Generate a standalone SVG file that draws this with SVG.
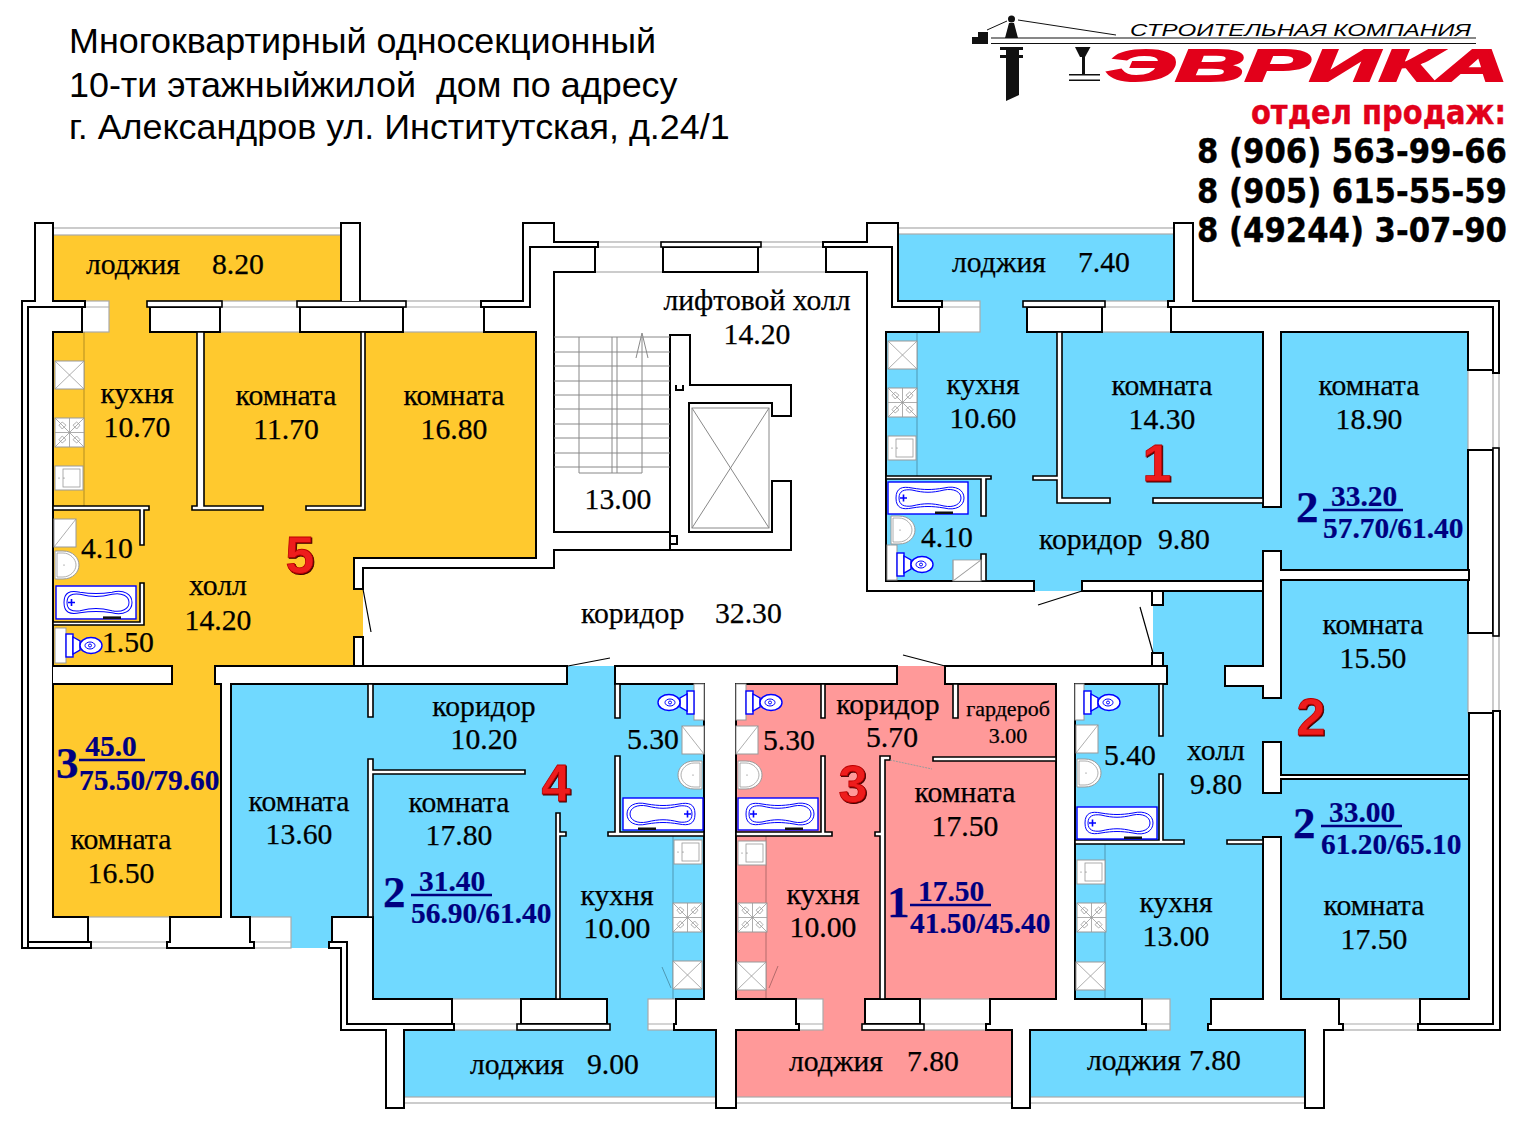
<svg xmlns="http://www.w3.org/2000/svg" xmlns:xlink="http://www.w3.org/1999/xlink" width="1528" height="1125" viewBox="0 0 1528 1125">
<style>
.o{fill:#ffc92e}.b{fill:#70d9ff}.p{fill:#ff9999}
.w{fill:#fff;stroke:#000;stroke-width:2;stroke-linejoin:miter}
.l{fill:none;stroke:#000;stroke-width:2}
.t{fill:#fff;stroke:#000;stroke-width:1.6}
.g{fill:#fff;stroke:#aaa;stroke-width:1.2}
.gl{fill:none;stroke:#aaa;stroke-width:1.2}
.s{fill:none;stroke:#888;stroke-width:1}
.c{fill:none;stroke:#000;stroke-opacity:.3;stroke-width:1}
.f{fill:#fff;stroke:#999;stroke-width:1}
.fl{fill:none;stroke:#999;stroke-width:.8}
.bl{fill:#fff;stroke:#00f;stroke-width:1.4}
.bn{fill:none;stroke:#00f;stroke-width:1}
text{font-family:"Liberation Serif","Times New Roman",serif;font-size:29.7px;fill:#000;stroke:#000;stroke-width:.25}
.m{text-anchor:middle}
.n{font-weight:bold;font-size:29.4px;fill:#000080;stroke:#000080;stroke-width:.2}
.nb{font-weight:bold;font-size:45px;fill:#000080;stroke:#000080}
.r{font-family:"Liberation Sans",Arial,sans-serif;font-weight:bold;font-size:52px;fill:#ee1c1c;stroke:#b00;stroke-width:.8;text-anchor:middle;filter:drop-shadow(1px 1px 0.5px #400)}
.h{font-family:"Liberation Sans",Arial,sans-serif;font-size:35.9px;stroke:none;white-space:pre}
.ph{font-family:"DejaVu Sans",Verdana,sans-serif;font-weight:bold;font-size:34px;stroke:#000;stroke-width:.4;text-anchor:end}
.u{stroke:#000080;stroke-width:2.4}
</style>
<defs>
<g id="bath"><rect class="bl" width="80" height="32"/><path class="bn" d="M8,16C8,6 14,4 24,6C36,8 44,8 56,6C68,3 76,8 76,16C76,24 68,29 56,26C44,24 36,24 24,26C14,28 8,26 8,16z"/><path class="bn" d="M11,16C11,9 16,7 24,8C36,11 44,11 56,8C66,6 73,10 73,16C73,22 66,26 56,24C44,21 36,21 24,24C16,25 11,23 11,16z"/><path d="M12,16H19M15.5,12.5V19.5" stroke="#00f" stroke-width="1.6"/><rect x="47" y="29.5" width="18" height="2.5" fill="#111"/></g>
<g id="toilet"><rect class="bl" x="0" y="1" width="7" height="23"/><path class="bl" d="M7,4L14,8V17L7,21z"/><ellipse class="bl" cx="25" cy="12.5" rx="11" ry="8"/><ellipse class="bn" cx="24" cy="12.5" rx="5" ry="3.5"/><circle class="bn" cx="24" cy="12.5" r="1.5"/></g>
<g id="basin"><path class="f" d="M0,0H8C18,0 24,7 24,14C24,21 18,28 8,28H0z"/><path class="fl" d="M2,2H8C15,2 21,8 21,14C21,20 15,26 8,26H2z"/><circle cx="9" cy="14" r=".6" fill="#666"/></g>
<g id="shower"><rect class="f" width="22" height="28"/><path class="fl" d="M0,28L22,0"/></g>
<g id="xbox"><rect class="f" width="29" height="28"/><path class="fl" d="M0,0L29,28M29,0L0,28"/></g>
<g id="stove"><rect class="f" width="29" height="29"/><path class="fl" d="M14.5,0V29M0,14.5H29M0,0L29,29M29,0L0,29M4,7.2L7.2,4L11,7.2L7.2,11zM18,7.2L21.7,4L25,7.2L21.7,11zM4,21.7L7.2,18L11,21.7L7.2,25zM18,21.7L21.7,18L25,21.7L21.7,25z"/></g>
<g id="sink"><rect class="f" width="28" height="24"/><rect class="fl" x="8" y="3" width="17" height="18"/><circle cx="4" cy="12" r=".6" fill="#666"/><circle cx="9" cy="12" r=".6" fill="#666"/></g>
</defs>
<rect width="1528" height="1125" fill="#fff"/>

<g id="floors">
<path class="o" d="M53,235H341V302H53zM109,302H150V334H109zM53,332H536V560H363V666H53zM172,660H215V690H172zM53,684H222V917H53z"/>
<path class="b" d="M898,234H1174V302H898zM980,301H1027V334H980zM886,332H1263V581H886zM1034,580H1082V591H1034zM1262,507H1282V551H1262zM1281,332H1468V571H1281zM1153,591H1263V684H1153zM1075,684H1263V999H1075zM1262,698H1282V742H1262zM1262,793H1282V837H1262zM1281,580H1469V776H1281zM1281,778H1469V999H1281zM1170,999H1211V1031H1170zM1030,1030H1305V1097H1030z"/>
<path class="b" d="M231,684H704V999H373V917H231zM567,666H615V685H567zM291,916H332V948H291zM607,999H648V1031H607zM404,1030H716V1097H404z"/>
<path class="p" d="M736,684H1056V999H736zM897,666H945V685H897zM823,999H865V1031H823zM736,1030H1012V1097H736z"/>
</g>

<g id="windows">
<rect class="g" x="53" y="228" width="288" height="7"/><rect class="g" x="898" y="228" width="276" height="6"/>
<rect class="g" x="404" y="1097" width="312" height="6"/><rect class="g" x="736" y="1097" width="276" height="6"/><rect class="g" x="1030" y="1097" width="275" height="6"/>
<rect class="g" x="82" y="301" width="27" height="31"/><rect class="g" x="220" y="301" width="80" height="31"/><rect class="g" x="403" y="301" width="81" height="31"/>
<rect class="g" x="595" y="242" width="68" height="30"/><rect class="g" x="758" y="242" width="68" height="30"/>
<rect class="g" x="939" y="301" width="41" height="31"/><rect class="g" x="1102" y="301" width="69" height="31"/>
<rect class="g" x="1468" y="370" width="31" height="80"/><rect class="g" x="1468" y="633" width="31" height="80"/>
<rect class="g" x="88" y="917" width="82" height="31"/><rect class="g" x="250" y="917" width="41" height="31"/>
<rect class="g" x="452" y="999" width="69" height="31"/><rect class="g" x="648" y="999" width="28" height="31"/><rect class="g" x="796" y="999" width="27" height="31"/>
<rect class="g" x="920" y="999" width="70" height="31"/><rect class="g" x="1142" y="999" width="28" height="31"/><rect class="g" x="1339" y="999" width="81" height="31"/>
<path class="gl" d="M82,307H109M220,307H300M403,307H484M595,247H663M758,247H826M939,307H980M1102,307H1171M1493,370V450M1493,633V713M88,942H170M250,942H291M452,1024H521M648,1024H676M796,1024H823M920,1024H990M1142,1024H1170M1339,1024H1420"/>
</g>

<g id="walls">
<path class="w" d="M35,223H53V301H85V307H82V332H53V917H88V942H91V948H22V301H35z"/>
<path class="l" d="M28,948V307H82M28,942H88"/>
<path class="w" d="M53,666H172V684H53"/>
<rect class="w" x="150" y="307" width="70" height="25"/><rect class="t" x="147" y="301" width="75" height="6"/>
<rect class="w" x="300" y="307" width="103" height="25"/><rect class="t" x="297" y="301" width="109" height="6"/>
<path class="w" d="M341,301V223H360V301"/>
<path class="w" d="M481,301H523V223H554V242H598V247H595V272H554V532H670V550H554V568H363V589H354V558H536V332H484V307H481z"/>
<path class="l" d="M481,307H530V247H595"/>
<rect class="w" x="354" y="637" width="9" height="29"/>
<path class="w" d="M670,335H690V385H791V416H772V403H689V532H772V481H791V550H670V544H677V536H670z"/>
<path class="l" d="M676,385V390H683V385"/>
<rect class="w" x="663" y="247" width="95" height="25"/><rect class="t" x="661" y="242" width="100" height="5"/>
<path class="w" d="M823,242H867V223H898V301H942V307H939V332H886V581H1034V591H867V272H826V247H823z"/>
<path class="l" d="M826,247H892V307H939"/>
<rect class="w" x="1027" y="307" width="75" height="25"/><rect class="t" x="1023" y="301" width="82" height="6"/>
<path class="w" d="M1168,301H1174V223H1193V301H1499V373H1493V370H1468V332H1281V507H1263V332H1171V307H1168z"/>
<path class="l" d="M1171,307H1493V373"/>
<rect class="w" x="1082" y="581" width="181" height="10"/>
<rect class="w" x="1468" y="450" width="25" height="183"/><rect class="t" x="1493" y="448" width="6" height="188"/>
<path class="w" d="M1263,551H1281V570H1469V580H1281V698H1263V686H1225V666H1263z"/>
<path class="w" d="M1263,742H1281V775H1469V779H1281V793H1263z"/>
<path class="w" d="M1263,837H1281V999H1339V1024H1343V1030H1324V1108H1305V1030H1208V1024H1211V999H1263z"/>
<path class="w" d="M1469,713H1493V711H1500V1030H1418V1024H1420V999H1469z"/>
<path class="l" d="M1493,711V1024H1420"/>
<rect class="w" x="1152" y="591" width="11" height="14"/><rect class="w" x="1152" y="653" width="11" height="15"/>
<path class="w" d="M945,666H1167V684H1075V999H1142V1024H1146V1030H1030V1108H1012V1030H986V1024H990V999H1056V684H945z"/>
<path class="w" d="M615,666H897V684H736V999H796V1024H799V1030H736V1108H716V1030H674V1024H676V999H704V684H615z"/>
<path class="w" d="M215,666H567V684H231V917H250V942H254V948H167V942H170V917H221V684H215z"/>
<path class="w" d="M332,917H373V999H452V1024H454V1030H404V1108H386V1030H341V948H329V942H332z"/>
<path class="l" d="M332,942H347V1024H452"/>
<rect class="w" x="521" y="999" width="86" height="25"/><rect class="t" x="517" y="1024" width="93" height="6"/>
<rect class="w" x="865" y="999" width="55" height="25"/><rect class="t" x="862" y="1024" width="62" height="6"/>
<path class="t" d="M53,506H149V510H144V545H140V510H53zM192,506H197V332H204V506H263V510H192zM306,506H361V332H365V510H306zM140,583H144V625H53V622H140z"/>
<path class="t" d="M886,476H991V479H986V516H981V479H886zM981,554H986V581H981zM1057,332H1062V498H1110V503H1057V480H1033V476H1057z"/>
<rect class="t" x="1153" y="498" width="110" height="5"/>
<path class="t" d="M368,684H373V717H368zM368,759H373V770H525V774H373V917H368zM556,813H560V832H566V836H560V999H556zM615,684H620V718H615zM615,756H620V832H704V836H608V832H615z"/>
<path class="t" d="M821,684H825V718H821zM821,756H825V832H832V836H736V832H821zM953,684H958V718H953zM880,756H890V760H885V999H880V836H875V832H880zM933,757H1056V761H933z"/>
<path class="t" d="M1159,684H1163V736H1159zM1159,774H1163V840H1184V844H1075V840H1159zM1227,840H1263V844H1227z"/>
</g>

<g id="doors-stairs">
<path d="M363,589L371,632M568,666L610,658M945,666L903,655M1082,591L1038,605M1140,607L1153,653" stroke="#000" stroke-width="1.2" fill="none"/>
<path class="s" d="M554,337H670M554,352H670M554,366H670M554,381H670M554,395H670M554,409H670M554,424H670M554,438H670M554,453H670M554,467H670M579,337V473H642V337M612,337V473M617,337V473M642,333L636,358M642,333L648,358"/>
<rect class="s" x="692" y="408" width="77" height="120"/><path class="s" d="M692,408L769,528M769,408L692,528"/>
<path class="c" d="M84,332V506M917,332V476M673,836V999M766,836V999M1105,844V999M662,967L671,988M778,966L769,988"/>
<path d="M890,760L932,769" stroke="#999" stroke-width="1" stroke-dasharray="2 1"/>
</g>

<g id="fixtures">
<use xlink:href="#xbox" transform="translate(55,361)"/><use xlink:href="#stove" transform="translate(55,418)"/><use xlink:href="#sink" transform="translate(55,466)"/>
<use xlink:href="#shower" transform="translate(54,519)"/><use xlink:href="#basin" transform="translate(55,551)"/><use xlink:href="#bath" transform="translate(56,586)scale(1,1.03)"/>
<rect class="f" x="55" y="628" width="11" height="35"/><use xlink:href="#toilet" transform="translate(66,633)"/>
<use xlink:href="#xbox" transform="translate(888,341)"/><use xlink:href="#stove" transform="translate(888,388)"/><use xlink:href="#sink" transform="translate(888,436)"/>
<use xlink:href="#bath" transform="translate(888,482)"/><use xlink:href="#basin" transform="translate(891,516)"/>
<rect class="f" x="887" y="545" width="10" height="35"/><use xlink:href="#toilet" transform="translate(897,552)"/>
<g transform="translate(953,560)scale(1.27,.75)"><use xlink:href="#shower"/></g>
<g transform="translate(704,0)scale(-1,1)"><rect class="f" x="0" y="684" width="10" height="36"/><use xlink:href="#toilet" transform="translate(10,690)"/><use xlink:href="#shower" transform="translate(0,726)"/><use xlink:href="#basin" transform="translate(2,761)"/><use xlink:href="#bath" transform="translate(1,798)"/></g>
<use xlink:href="#sink" transform="translate(674,840)"/><use xlink:href="#stove" transform="translate(673,903)"/><use xlink:href="#xbox" transform="translate(673,961)"/>
<rect class="f" x="736" y="684" width="10" height="36"/><use xlink:href="#toilet" transform="translate(746,690)"/><use xlink:href="#shower" transform="translate(736,726)"/><use xlink:href="#basin" transform="translate(738,761)"/><use xlink:href="#bath" transform="translate(738,798)"/>
<use xlink:href="#sink" transform="translate(738,841)"/><use xlink:href="#stove" transform="translate(738,903)"/><use xlink:href="#xbox" transform="translate(737,962)"/>
<rect class="f" x="1075" y="684" width="9" height="36"/><use xlink:href="#toilet" transform="translate(1084,690)"/><use xlink:href="#shower" transform="translate(1076,725)"/><use xlink:href="#basin" transform="translate(1077,759)"/><use xlink:href="#bath" transform="translate(1077,807)"/>
<use xlink:href="#sink" transform="translate(1077,860)"/><use xlink:href="#stove" transform="translate(1077,903)"/><use xlink:href="#xbox" transform="translate(1076,962)"/>
</g>

<g id="header">
<text class="h" x="69" y="53">Многоквартирный односекционный</text>
<text class="h" x="69" y="97">10-ти этажныйжилой  дом по адресу</text>
<text class="h" x="69" y="139">г. Александров ул. Институтская, д.24/1</text>
</g>

<g id="logo">
<path d="M991,38H1476M991,43.500H1476" stroke="#111" stroke-width="1.2"/>
<path d="M972,44V37H978V32H988V44z" fill="#111"/>
<circle cx="1011.500" cy="19" r="3.500" fill="#111"/>
<path d="M1009,23H1014L1018,38H1005z" fill="#111"/>
<path d="M987,30L1007,21M1018,20L1116,35" stroke="#111" stroke-width="1"/>
<path d="M1006,48H1019V95L1006,101z" fill="#111"/>
<path d="M1000,47H1023V50H1000zM1000,55H1023V58H1000z" fill="#111"/>
<path d="M1075,47H1090.500L1085,57H1080z" fill="#111"/>
<path d="M1082,57H1085V74H1082zM1069,74H1100V75.500H1069zM1069,79.500H1100V81H1069z" fill="#111"/>
<text x="1130" y="36" textLength="341" lengthAdjust="spacingAndGlyphs" style="font-family:'Liberation Sans',Arial,sans-serif;font-style:italic;font-size:16.500px;stroke:none;fill:#000">СТРОИТЕЛЬНАЯ КОМПАНИЯ</text>
<text x="1106" y="81" textLength="402" lengthAdjust="spacingAndGlyphs" style="font-family:'Liberation Sans',Arial,sans-serif;font-weight:bold;font-style:italic;font-size:45px;fill:#e2001a;stroke:#e2001a;stroke-width:2">ЭВРИКА</text>
<text class="ph" transform="translate(1506,124)scale(.878,1)" style="fill:#e2001a;stroke:#e2001a;font-size:33px">отдел продаж:</text>
<text class="ph" transform="translate(1507,163)scale(.904,1)">8 (906) 563-99-66</text>
<text class="ph" transform="translate(1507,203)scale(.904,1)">8 (905) 615-55-59</text>
<text class="ph" transform="translate(1507,242)scale(.904,1)">8 (49244) 3-07-90</text>
</g>

<g id="apartment-5">
<text y="274"><tspan x="86">лоджия</tspan><tspan x="212">8.20</tspan></text>
<text class="m" x="137" y="403">кухня</text><text class="m" x="137" y="437">10.70</text>
<text class="m" x="286" y="405">комната</text><text class="m" x="286" y="439">11.70</text>
<text class="m" x="454" y="405">комната</text><text class="m" x="454" y="439">16.80</text>
<text x="81" y="558">4.10</text><text class="m" x="218" y="595">холл</text><text class="m" x="218" y="630">14.20</text><text x="102" y="652">1.50</text>
<text class="r" x="300" y="573">5</text>
</g>
<g id="apartment-3-left">
<text class="m" x="121" y="849">комната</text><text class="m" x="121" y="883">16.50</text>
<text class="nb" x="56" y="778">3</text><text class="n m" x="111" y="756">45.0</text><line class="u" x1="79" y1="760" x2="145" y2="760"/><text class="n" x="79" y="790">75.50/79.60</text>
</g>
<g id="core">
<text class="m" x="757" y="310">лифтовой холл</text><text class="m" x="757" y="344">14.20</text>
<text class="m" x="618" y="509">13.00</text>
<text y="623"><tspan x="581">коридор</tspan><tspan x="715">32.30</tspan></text>
</g>
<g id="apartment-1">
<text y="272"><tspan x="952">лоджия</tspan><tspan x="1078">7.40</tspan></text>
<text class="m" x="983" y="394">кухня</text><text class="m" x="983" y="428">10.60</text>
<text class="m" x="1162" y="395">комната</text><text class="m" x="1162" y="429">14.30</text>
<text x="921" y="547">4.10</text>
<text y="549"><tspan x="1039">коридор</tspan><tspan x="1158">9.80</tspan></text>
<text class="r" x="1157" y="481">1</text>
<text class="m" x="1369" y="395">комната</text><text class="m" x="1369" y="429">18.90</text>
<text class="nb" x="1296" y="522">2</text><text class="n" x="1331" y="506">33.20</text><line class="u" x1="1323" y1="510" x2="1403" y2="510"/><text class="n" x="1323" y="538">57.70/61.40</text>
</g>
<g id="apartment-2">
<text class="m" x="1373" y="634">комната</text><text class="m" x="1373" y="668">15.50</text>
<text class="r" x="1311" y="735">2</text>
<text class="m" x="1216" y="760">холл</text><text class="m" x="1216" y="794">9.80</text><text x="1104" y="765">5.40</text>
<text class="nb" x="1293" y="838">2</text><text class="n" x="1329" y="822">33.00</text><line class="u" x1="1321" y1="826" x2="1402" y2="826"/><text class="n" x="1321" y="854">61.20/65.10</text>
<text class="m" x="1176" y="912">кухня</text><text class="m" x="1176" y="946">13.00</text>
<text class="m" x="1374" y="915">комната</text><text class="m" x="1374" y="949">17.50</text>
<text y="1070"><tspan x="1087">лоджия</tspan><tspan x="1189">7.80</tspan></text>
</g>
<g id="apartment-3">
<text class="m" x="888" y="714">коридор</text><text class="m" x="892" y="747">5.70</text>
<text class="m" x="1008" y="716" style="font-size:22px">гардероб</text><text class="m" x="1008" y="743" style="font-size:22px">3.00</text>
<text x="763" y="750">5.30</text><text class="r" x="853" y="802">3</text>
<text class="m" x="965" y="802">комната</text><text class="m" x="965" y="836">17.50</text>
<text class="m" x="823" y="904">кухня</text><text class="m" x="823" y="937">10.00</text>
<text class="nb" x="887" y="917">1</text><text class="n" x="918" y="901">17.50</text><line class="u" x1="910" y1="905" x2="991" y2="905"/><text class="n" x="910" y="933">41.50/45.40</text>
<text y="1071"><tspan x="789">лоджия</tspan><tspan x="907">7.80</tspan></text>
</g>
<g id="apartment-4">
<text class="m" x="484" y="716">коридор</text><text class="m" x="484" y="749">10.20</text><text x="627" y="749">5.30</text>
<text class="r" x="556" y="801">4</text>
<text class="m" x="299" y="811">комната</text><text class="m" x="299" y="844">13.60</text>
<text class="m" x="459" y="812">комната</text><text class="m" x="459" y="845">17.80</text>
<text class="nb" x="383" y="907">2</text><text class="n" x="419" y="891">31.40</text><line class="u" x1="411" y1="895" x2="492" y2="895"/><text class="n" x="411" y="923">56.90/61.40</text>
<text class="m" x="617" y="905">кухня</text><text class="m" x="617" y="938">10.00</text>
<text y="1074"><tspan x="470">лоджия</tspan><tspan x="587">9.00</tspan></text>
</g>
</svg>
